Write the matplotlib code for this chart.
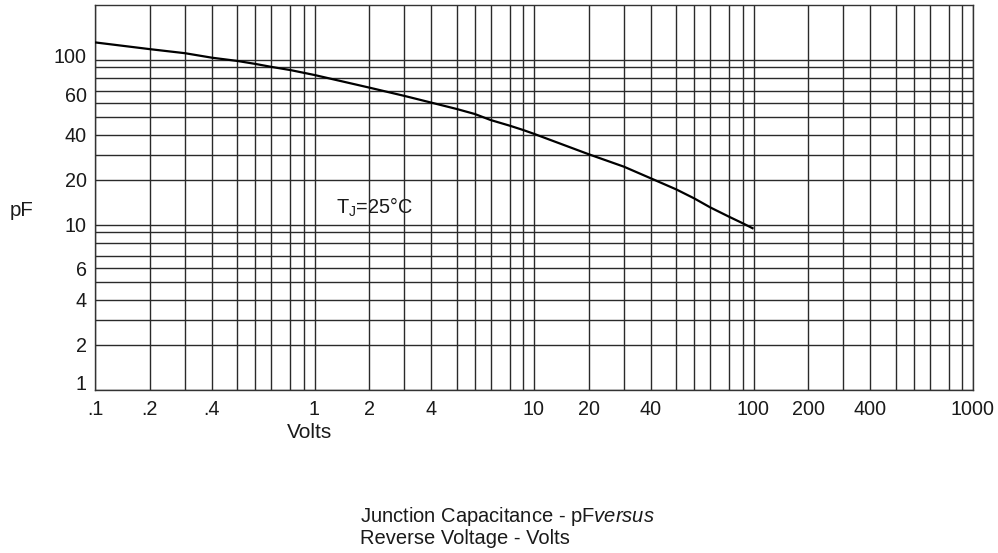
import numpy as np
import matplotlib
matplotlib.use("Agg")
import matplotlib.pyplot as plt
from matplotlib.transforms import ScaledTranslation

plt.rcParams['font.family'] = ['Liberation Sans', 'DejaVu Sans']
plt.rcParams['mathtext.fontset'] = 'custom'
plt.rcParams['mathtext.rm'] = 'Liberation Sans'
plt.rcParams['mathtext.it'] = 'Liberation Sans:italic'

# ---- data ----
volts = [0.1, 0.2, 0.3, 0.4, 0.5, 0.6, 0.7, 0.8, 0.9, 1, 2, 3, 4, 5, 6, 7, 8, 9,
         10, 20, 30, 40, 50, 60, 70, 80, 90, 100]
capacitance = [139, 124, 115, 105, 98.7, 94.7, 90.7, 87.5, 85, 82.9, 72.6, 65.9, 60.3,
               55.7, 52.1, 48.2, 45, 42.6, 40.4, 30.1, 25.2, 20.6, 17.9, 15.9, 13.9,
               11.8, 10.4, 9.5]
x_tick_values = [0.1, 0.2, 0.4, 1, 2, 4, 10, 20, 40, 100, 200, 400, 1000]
x_tick_labels = ['.1', '.2', '.4', '1', '2', '4', '10', '20', '40', '100', '200', '400', '1000']
y_tick_values = [1, 2, 4, 6, 10, 20, 40, 60, 100]
y_tick_labels = ['1', '2', '4', '6', '10', '20', '40', '60', '100']
annotation = r'T$_{\mathrm{J}}$=25°C'

# ---- chart-paper scale (hand-ruled log paper) ----
MANT = np.array([1, 2, 3, 4, 5, 6, 7, 8, 9, 10], float)
XFRAC = np.array([0, .25, .41, .533, .648, .73, .803, .89, .95, 1.0])
YFRAC = np.array([0, .273, .427, .548, .655, .739, .812, .89, .955, 1.0])


def make_fwd(frac):
    def fwd(v):
        v = np.asarray(v, float)
        v = np.clip(v, 1e-300, None)
        d = np.floor(np.log10(v))
        m = v / 10.0 ** d
        return d + np.interp(m, MANT, frac)
    return fwd


def make_inv(frac):
    def inv(s):
        s = np.asarray(s, float)
        d = np.floor(s)
        f = s - d
        return 10.0 ** d * np.interp(f, frac, MANT)
    return inv


W, H = 998, 553
fig = plt.figure(figsize=(W / 100, H / 100), dpi=100)
fig.patch.set_facecolor('white')
L, R, T, B = 95, 973, 5, 390
ax = fig.add_axes([L / W, 1 - B / H, (R - L) / W, (B - T) / H])

ax.set_xscale('function', functions=(make_fwd(XFRAC), make_inv(XFRAC)))
ax.set_yscale('function', functions=(make_fwd(YFRAC), make_inv(YFRAC)))

ax.plot(volts, capacitance, color='black', lw=1.6, solid_capstyle='butt',
        solid_joinstyle='round', zorder=3)

ax.set_xlim(0.1, 1000)
ax.set_ylim(1, 239)

# grid
x_minor = [m * 10.0 ** d for d in range(-1, 3) for m in range(1, 10)] + [1000]
x_minor = [v for v in x_minor if not any(abs(v - t) < 1e-9 * max(v, 1) for t in x_tick_values)]
y_minor = [m * 10.0 ** d for d in range(0, 2) for m in range(1, 10)] + [100]
y_minor = [v for v in y_minor if not any(abs(v - t) < 1e-9 * max(v, 1) for t in y_tick_values)]

ax.set_xticks(x_tick_values)
ax.set_xticklabels(x_tick_labels)
ax.set_xticks(x_minor, minor=True)
ax.set_yticks(y_tick_values)
ax.set_yticklabels(y_tick_labels)
ax.set_yticks(y_minor, minor=True)
ax.tick_params(which='both', length=0, labelsize=14.2, colors='#1a1a1a')
ax.tick_params(axis='x', pad=7)
ax.tick_params(axis='y', pad=6)
ax.grid(which='both', color='#2a2a2a', lw=1.0)
ax.set_axisbelow(True)
for sp in ax.spines.values():
    sp.set_color('#333333')
    sp.set_linewidth(1.0)

# nudge a few y labels as on the original sheet
shifts = {'1': 7, '60': 9, '100': 4}
for lab in ax.get_yticklabels():
    dy = shifts.get(lab.get_text(), 0)
    if dy:
        lab.set_transform(lab.get_transform() + ScaledTranslation(0, dy / 100, fig.dpi_scale_trans))

ax.text(0.274, 0.475, annotation, transform=ax.transAxes, fontsize=14.3,
        color='#1a1a1a', va='center', ha='left')

fig.text(10 / W, 1 - 210 / H, 'pF', fontsize=14.8, color='#1a1a1a', va='center', ha='left')
fig.text(310 / W, 1 - 432 / H, 'Volts', fontsize=15, color='#1a1a1a', va='center', ha='center')
fig.text(360 / W, 1 - 516 / H, r'Junction Capacitance - pF$\mathit{versus}$', fontsize=14.5,
         color='#1a1a1a', va='center', ha='left')
fig.text(360 / W, 1 - 539 / H, 'Reverse Voltage - Volts', fontsize=14.5,
         color='#1a1a1a', va='center', ha='left')

fig.savefig('out.png', dpi=100, facecolor='white')
